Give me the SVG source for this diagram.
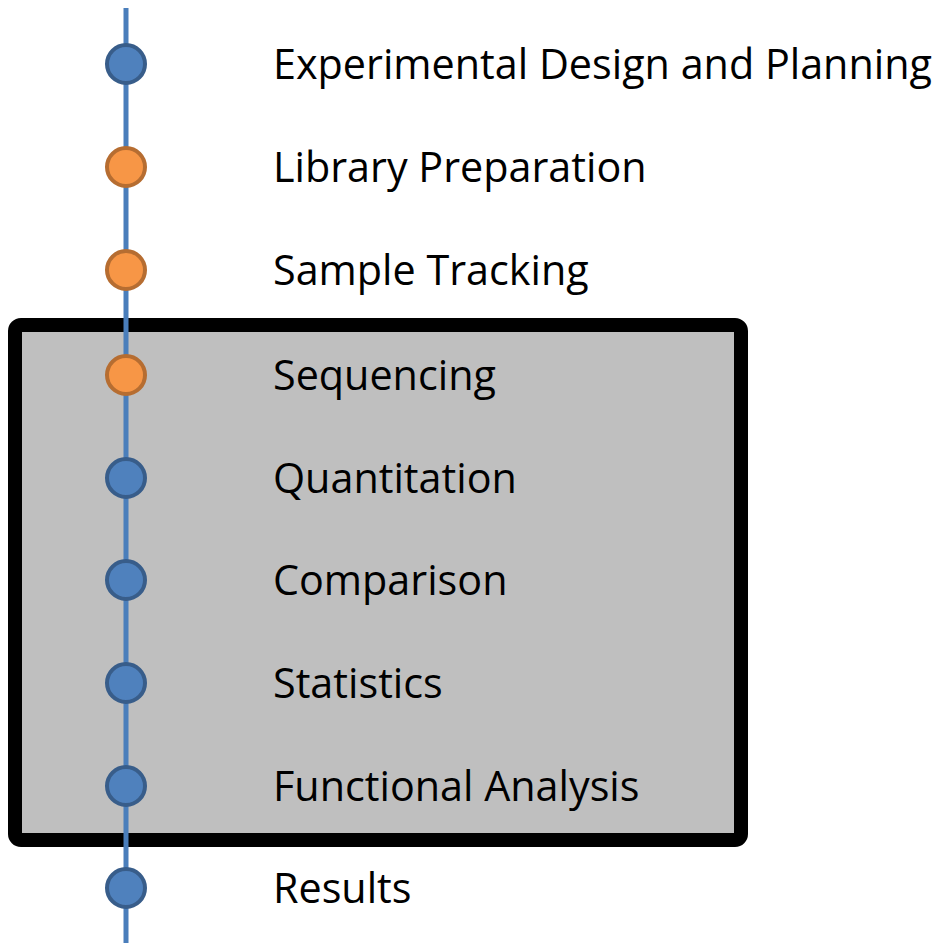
<svg xmlns="http://www.w3.org/2000/svg" width="941" height="946" viewBox="0 0 941 946">
<style>
.lbl{font-family:"Open Sans","Liberation Sans",sans-serif;font-size:41.3px;fill:#000}
.blue{fill:#4f81bd;stroke:#385d8a;stroke-width:4}
.orange{fill:#f79646;stroke:#b66d31;stroke-width:4}
</style>
<rect width="941" height="946" fill="#fff"/>
<g id="box"><rect x="15" y="325" width="726" height="515" rx="6" fill="#bfbfbf" stroke="#000" stroke-width="14"/></g>
<g id="connectors"><line x1="126" y1="8" x2="126" y2="943" stroke="#4a7ebb" stroke-width="5"/></g>
<g id="n1"><circle class="blue" cx="126" cy="64" r="19"/><text class="lbl" x="273" y="79">Experimental Design and Planning</text></g>
<g id="n2"><circle class="orange" cx="126" cy="167" r="19"/><text class="lbl" x="273" y="182">Library Preparation</text></g>
<g id="n3"><circle class="orange" cx="126" cy="270" r="19"/><text class="lbl" x="273" y="285">Sample Tracking</text></g>
<g id="n4"><circle class="orange" cx="126" cy="375" r="19"/><text class="lbl" x="273" y="390">Sequencing</text></g>
<g id="n5"><circle class="blue" cx="126" cy="478" r="19"/><text class="lbl" x="273" y="493">Quantitation</text></g>
<g id="n6"><circle class="blue" cx="126" cy="580" r="19"/><text class="lbl" x="273" y="595">Comparison</text></g>
<g id="n7"><circle class="blue" cx="126" cy="683" r="19"/><text class="lbl" x="273" y="698">Statistics</text></g>
<g id="n8"><circle class="blue" cx="126" cy="786" r="19"/><text class="lbl" x="273" y="801">Functional Analysis</text></g>
<g id="n9"><circle class="blue" cx="126" cy="888" r="19"/><text class="lbl" x="273" y="903">Results</text></g>
</svg>
